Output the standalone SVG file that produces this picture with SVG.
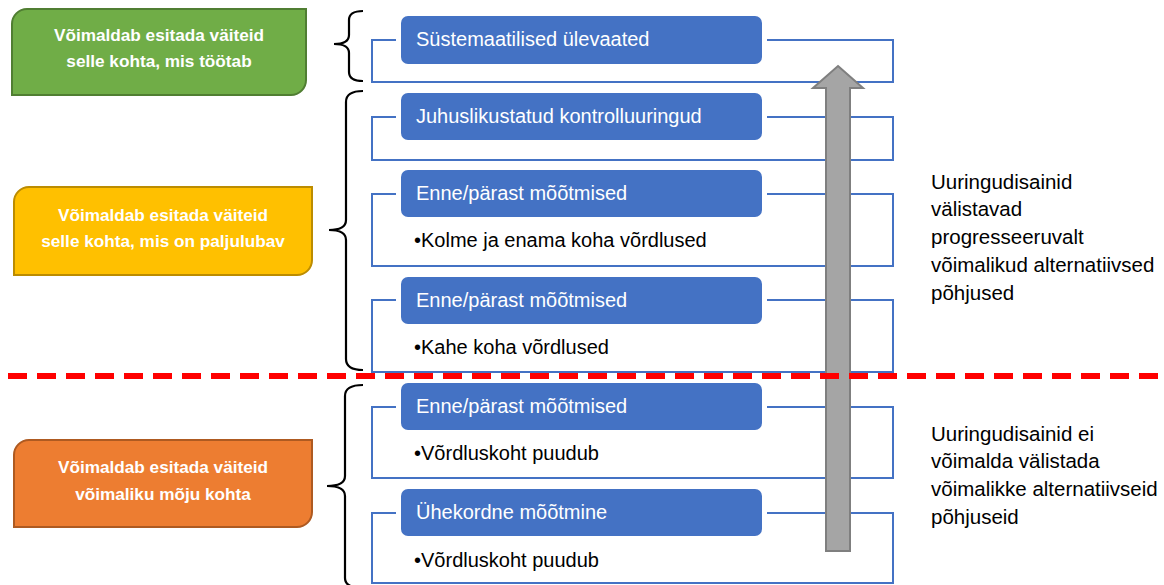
<svg xmlns="http://www.w3.org/2000/svg" width="1164" height="585" viewBox="0 0 1164 585">
<defs>
<style>
.frame{fill:none;stroke:#4472C4;stroke-width:2}
.hdrbg{fill:#FFFFFF}
.hdr{fill:#4472C4}
.hdrt{font-family:"Liberation Sans",Arial,sans-serif;font-size:20px;fill:#FFFFFF}
.bul{font-family:"Liberation Sans",Arial,sans-serif;font-size:20px;fill:#000000}
.side{font-family:"Liberation Sans",Arial,sans-serif;font-size:20.5px;fill:#000000}
.lbl{font-family:"Liberation Sans",Arial,sans-serif;font-size:17.2px;font-weight:bold;fill:#FFFFFF;text-anchor:middle}
.brace{fill:none;stroke:#000000;stroke-width:2.2}
</style>
</defs>
<rect width="1164" height="585" fill="#FFFFFF"/>
<g id="frames">
<g id="n1"><rect class="frame" x="372" y="40" width="521" height="42"/><rect class="hdrbg" x="396" y="11" width="371" height="58" rx="10"/><rect class="hdr" x="401" y="16" width="361" height="48" rx="7"/><text class="hdrt" x="416" y="46">Süstemaatilised ülevaated</text></g>
<g id="n2"><rect class="frame" x="372" y="117" width="521" height="43"/><rect class="hdrbg" x="396" y="88" width="371" height="57" rx="10"/><rect class="hdr" x="401" y="93" width="361" height="47" rx="7"/><text class="hdrt" x="416" y="123">Juhuslikustatud kontrolluuringud</text></g>
<g id="n3"><rect class="frame" x="372" y="194" width="521" height="72"/><rect class="hdrbg" x="396" y="165" width="371" height="57" rx="10"/><rect class="hdr" x="401" y="170" width="361" height="47" rx="7"/><text class="hdrt" x="416" y="200">Enne/pärast mõõtmised</text><text class="bul" x="414" y="247">•Kolme ja enama koha võrdlused</text></g>
<g id="n4"><rect class="frame" x="372" y="300" width="521" height="72"/><rect class="hdrbg" x="396" y="272" width="371" height="57" rx="10"/><rect class="hdr" x="401" y="277" width="361" height="47" rx="7"/><text class="hdrt" x="416" y="307">Enne/pärast mõõtmised</text><text class="bul" x="414" y="354">•Kahe koha võrdlused</text></g>
<g id="n5"><rect class="frame" x="372" y="407" width="521" height="71"/><rect class="hdrbg" x="396" y="378" width="371" height="57" rx="10"/><rect class="hdr" x="401" y="383" width="361" height="47" rx="7"/><text class="hdrt" x="416" y="413">Enne/pärast mõõtmised</text><text class="bul" x="414" y="460">•Võrdluskoht puudub</text></g>
<g id="n6"><rect class="frame" x="372" y="513" width="521" height="70"/><rect class="hdrbg" x="396" y="484" width="371" height="57" rx="10"/><rect class="hdr" x="401" y="489" width="361" height="47" rx="7"/><text class="hdrt" x="416" y="519">Ühekordne mõõtmine</text><text class="bul" x="414" y="567">•Võrdluskoht puudub</text></g>
</g>
<g id="connectors">
<polygon id="arrow" points="838,66 863,88 850,88 850,551 826,551 826,88 813,88" fill="#A5A5A5" stroke="#7F7F7F" stroke-width="2"/>
<line id="divider" x1="8" y1="376" x2="1164" y2="376" stroke="#FF0000" stroke-width="6" stroke-dasharray="19 10"/>
<path class="brace" d="M363 11 Q349 11 349 20 L349 35 Q349 44 334 44 Q349 44 349 53 L349 72 Q349 81 363 81"/>
<path class="brace" d="M363 91 Q346 91 346 102 L346 220 Q346 230 329 230 Q346 230 346 240 L346 359 Q346 370 363 370"/>
<path class="brace" d="M363 385 Q345 385 345 396 L345 476 Q345 486 327 486 Q345 486 345 496 L345 578 Q345 588 363 588"/>
</g>
<g id="green"><path d="M12 24 A15 15 0 0 1 27 9 H306 V80 A15 15 0 0 1 291 95 H12 Z" fill="#70AD47" stroke="#507E32" stroke-width="2"/><text class="lbl" x="159" y="41">Võimaldab esitada väiteid</text><text class="lbl" x="159" y="67">selle kohta, mis töötab</text></g>
<g id="yellow"><path d="M14 202 A15 15 0 0 1 29 187 H312 V260 A15 15 0 0 1 297 275 H14 Z" fill="#FFC000" stroke="#BC8C00" stroke-width="2"/><text class="lbl" x="163" y="221">Võimaldab esitada väiteid</text><text class="lbl" x="163" y="247">selle kohta, mis on paljulubav</text></g>
<g id="orange"><path d="M14 455 A15 15 0 0 1 29 440 H312 V512 A15 15 0 0 1 297 527 H14 Z" fill="#ED7D31" stroke="#AE5A21" stroke-width="2"/><text class="lbl" x="163" y="473">Võimaldab esitada väiteid</text><text class="lbl" x="163" y="500">võimaliku mõju kohta</text></g>
<g id="side1"><text class="side" x="931" y="189">Uuringudisainid</text><text class="side" x="931" y="216">välistavad</text><text class="side" x="931" y="244">progresseeruvalt</text><text class="side" x="931" y="272">võimalikud alternatiivsed</text><text class="side" x="931" y="300">põhjused</text></g>
<g id="side2"><text class="side" x="931" y="441">Uuringudisainid ei</text><text class="side" x="931" y="468">võimalda välistada</text><text class="side" x="931" y="496">võimalikke alternatiivseid</text><text class="side" x="931" y="524">põhjuseid</text></g>
</svg>
